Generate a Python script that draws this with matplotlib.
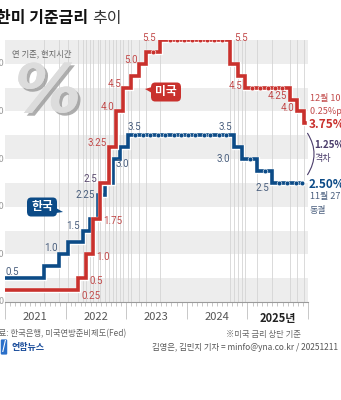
import matplotlib
matplotlib.use('Agg')
from matplotlib import pyplot as plt
import matplotlib.dates as mdates
import matplotlib.patheffects as pe
from matplotlib.patches import FancyBboxPatch, Polygon
import pandas as pd

plt.rcParams['font.family'] = ['Noto Sans CJK KR', 'DejaVu Sans']

# US Fed (upper bound), change dates (local time)
us_dates = ['2021-01-01', '2022-03-16', '2022-05-04', '2022-06-15', '2022-07-27',
            '2022-09-21', '2022-11-02', '2022-12-14', '2023-02-01', '2023-03-22',
            '2023-05-03', '2023-07-26', '2024-09-18', '2024-11-07', '2024-12-18',
            '2025-09-17', '2025-10-29', '2025-12-10']
us_rates = [0.25, 0.5, 1.0, 1.75, 2.5, 3.25, 4.0, 4.5, 4.75, 5.0,
            5.25, 5.5, 5.0, 4.75, 4.5, 4.25, 4.0, 3.75]
us_end = '2025-12-13'
us_hold_dates = ['2023-06-14', '2023-09-20', '2023-11-01', '2023-12-13', '2024-01-31',
                 '2024-03-20', '2024-05-01', '2024-06-12', '2024-07-31',
                 '2025-01-29', '2025-03-19', '2025-05-07', '2025-06-18', '2025-07-30']
us_hold_rates = [5.25, 5.5, 5.5, 5.5, 5.5, 5.5, 5.5, 5.5, 5.5,
                 4.5, 4.5, 4.5, 4.5, 4.5]

# Bank of Korea base rate
kr_dates = ['2021-01-01', '2021-08-26', '2021-11-25', '2022-01-14', '2022-04-14',
            '2022-05-26', '2022-07-13', '2022-08-25', '2022-10-12', '2022-11-24',
            '2023-01-13', '2024-10-11', '2024-11-28', '2025-02-25', '2025-05-29']
kr_rates = [0.5, 0.75, 1.0, 1.25, 1.5, 1.75, 2.25, 2.5, 3.0, 3.25,
            3.5, 3.25, 3.0, 2.75, 2.5]
kr_end = '2025-11-27'
kr_hold_dates = ['2023-02-23', '2023-04-11', '2023-05-25', '2023-07-13', '2023-08-24',
                 '2023-10-19', '2023-11-30', '2024-01-11', '2024-02-22', '2024-04-12',
                 '2024-05-23', '2024-07-11', '2024-08-22', '2025-01-16', '2025-04-17',
                 '2025-07-10', '2025-08-28', '2025-10-23', '2025-11-27']
kr_hold_rates = [3.5] * 13 + [3.0, 2.75, 2.5, 2.5, 2.5, 2.5]

years = ['2021', '2022', '2023', '2024', '2025년']

# rate labels: (date, rate, text, dx px, dy px, ha)
us_labels = [('2022-03-16', 0.25, '0.25', 4, -6, 'left'),
             ('2022-05-04', 0.5, '0.5', 4, -3, 'left'),
             ('2022-06-15', 1.0, '1.0', 3, -3, 'left'),
             ('2022-07-27', 1.75, '1.75', 3, -2, 'left'),
             ('2022-09-21', 3.25, '3.25', -2, 4, 'right'),
             ('2022-11-02', 4.0, '4.0', -2, 4, 'right'),
             ('2022-12-14', 4.5, '4.5', -2, 4, 'right'),
             ('2023-03-22', 5.0, '5.0', -2, 4, 'right'),
             ('2023-07-26', 5.5, '5.5', -4, 2, 'right'),
             ('2024-09-18', 5.5, '5.5', 4, 2, 'left'),
             ('2024-12-18', 4.5, '4.5', -3, 2, 'right'),
             ('2025-09-17', 4.25, '4.25', -3, 4, 'right'),
             ('2025-10-29', 4.0, '4.0', -3, 3, 'right')]
kr_labels = [('2021-01-01', 0.5, '0.5', 0, 6, 'left'),
             ('2021-11-25', 1.0, '1.0', -2, 6, 'right'),
             ('2022-04-14', 1.5, '1.5', -3, 5, 'right'),
             ('2022-07-13', 2.25, '2.25', -3, 0, 'right'),
             ('2022-10-12', 3.0, '3.0', 3, -5, 'left'),
             ('2023-01-13', 3.5, '3.5', -1, 8, 'left'),
             ('2024-10-11', 3.5, '3.5', -2, 8, 'right'),
             ('2024-11-28', 3.0, '3.0', -12, 0, 'right'),
             ('2025-05-29', 2.5, '2.5', -3, -5, 'right')]

RED = '#c9312d'
BLUE = '#0c4b87'
RED_T = '#c24a4a'
BLUE_T = '#4a5f7e'
W, H = 341, 400


def fx(px):
    return px / W


def fy(py):
    return 1 - py / H


fig = plt.figure(figsize=(3.41, 4.0), dpi=100)
ax = fig.add_axes([fx(5), 1 - 302 / H, 303 / W, 262 / H])
ax.set_xlim(pd.Timestamp('2021-01-01'), pd.Timestamp('2026-01-01'))
ax.set_ylim(0, 5.5)

# background bands
for lo in [0, 1, 2, 3, 4, 5]:
    ax.axhspan(lo, lo + 0.5, color='#ededed', lw=0, zorder=0)

# vertical guide lines at every change
for d in sorted(set(us_dates[1:] + kr_dates[1:])):
    ax.axvline(pd.Timestamp(d), color='#d4d4d4', lw=0.6, zorder=1)

us_x = pd.to_datetime(us_dates + [us_end])
kr_x = pd.to_datetime(kr_dates + [kr_end])
stroke = [pe.Stroke(linewidth=3.8, foreground='white'), pe.Normal()]
ax.step(kr_x, kr_rates + [kr_rates[-1]], where='post', color=BLUE, lw=2.6,
        zorder=3, path_effects=stroke, solid_joinstyle='miter')
ax.step(us_x, us_rates + [us_rates[-1]], where='post', color=RED, lw=2.6,
        zorder=4, path_effects=stroke, solid_joinstyle='miter')
ax.plot(pd.to_datetime(kr_hold_dates), kr_hold_rates, 'o', color=BLUE, ms=3.4,
        mec='white', mew=0.4, zorder=5)
ax.plot(pd.to_datetime(us_hold_dates), us_hold_rates, 'o', color=RED, ms=3.4,
        mec='white', mew=0.4, zorder=5)

for labels, col in [(us_labels, RED_T), (kr_labels, BLUE_T)]:
    for d, r, t, dx, dy, ha in labels:
        ax.annotate(t, (pd.Timestamp(d), r), xytext=(dx * 0.72, dy * 0.72),
                    textcoords='offset points', ha=ha, va='center',
                    fontsize=7, color=col, family=['Roboto', 'DejaVu Sans'],
                    annotation_clip=False, zorder=6)
# shared 2.5 label
ax.annotate('2.5', (pd.Timestamp('2022-07-27'), 2.5), xytext=(-2, 3),
            textcoords='offset points', ha='right', va='center', fontsize=7,
            color='#5a4a6e', family=['Roboto', 'DejaVu Sans'], zorder=6)

# axes styling
for s in ['top', 'left', 'right']:
    ax.spines[s].set_visible(False)
ax.spines['bottom'].set_color('#9a9a9a')
ax.spines['bottom'].set_linewidth(0.8)
ax.set_yticks([])
ax.xaxis.set_major_locator(mdates.YearLocator())
ax.xaxis.set_minor_locator(mdates.MonthLocator())
ax.tick_params(axis='x', which='major', length=12, color='#c8c8c8', width=0.7,
               labelbottom=False)
ax.tick_params(axis='x', which='minor', length=3, color='#b0b0b0', width=0.5)
for i, y in enumerate(years):
    ax.text(pd.Timestamp(f'{2021 + i}-07-02'), -0.22, y, ha='center', va='top',
            fontsize=8, color='#222' if i == 4 else '#555',
            fontweight='bold' if i == 4 else 'normal')

# cut-off y tick labels at the left edge
for v in [0, 1, 2, 3, 4, 5]:
    fig.text(fx(4), fy(302 - v * 47.6), f'{v}.0' if v else '0', ha='right',
             va='center', fontsize=6.5, color='#9a9a9a')

# title & notes
fig.text(fx(88), fy(18), '한미 기준금리', ha='right', va='center', fontsize=11.5,
         fontweight='bold', color='#111')
fig.text(fx(92), fy(18), '추이', ha='left', va='center', fontsize=11.5,
         fontweight='light', color='#333')
fig.text(fx(12), fy(54), '연 기준, 현지시간', ha='left', va='center', fontsize=6,
         color='#666')
fig.text(fx(48), fy(93), '%', ha='center', va='center', fontsize=48,
         fontweight='bold', style='italic', color='#dcdcdc',
         family=['DejaVu Sans'],
         path_effects=[pe.withSimplePatchShadow(offset=(2, -2),
                                                shadow_rgbFace='#9a9a9a', alpha=0.8),
                       pe.Normal()])


def callout(cx, cy, text, col, side):
    w, h = 30, 19
    box = FancyBboxPatch((fx(cx - w / 2), fy(cy + h / 2)), w / W, h / H,
                         boxstyle='round,pad=0,rounding_size=0.012',
                         transform=fig.transFigure, fc=col, ec='none', zorder=10)
    fig.patches.append(box)
    if side == 'left':
        pts = [(cx - w / 2 + 1, cy - 5), (cx - w / 2 - 6, cy - 3), (cx - w / 2 + 1, cy + 1)]
    else:
        pts = [(cx + w / 2 - 1, cy + 1), (cx + w / 2 + 6, cy + 5), (cx + w / 2 - 1, cy + 6)]
    fig.patches.append(Polygon([(fx(a), fy(b)) for a, b in pts], closed=True,
                               transform=fig.transFigure, fc=col, ec='none', zorder=10))
    fig.text(fx(cx), fy(cy), text, ha='center', va='center', fontsize=8.5,
             fontweight='bold', color='white', zorder=11)


callout(166, 92, '미국', RED, 'left')
callout(42, 207, '한국', BLUE, 'right')

# right side annotations
fig.text(fx(310), fy(98), '12월 10일', fontsize=6.5, color=RED_T, va='center')
fig.text(fx(310), fy(111), '0.25%p 인하', fontsize=6.5, color=RED_T, va='center')
fig.text(fx(309), fy(124), '3.75%', fontsize=8.5, color=RED, fontweight='bold',
         va='center')
fig.text(fx(314), fy(145), '1.25%p', fontsize=7, color='#4b3d6b',
         fontweight='bold', va='center')
fig.text(fx(314), fy(158), '격차', fontsize=6.5, color='#4b3d6b', va='center')
fig.text(fx(309), fy(184), '2.50%', fontsize=8.5, color=BLUE, fontweight='bold',
         va='center')
fig.text(fx(310), fy(197), '11월 27일', fontsize=6.5, color=BLUE_T, va='center')
fig.text(fx(310), fy(210), '동결', fontsize=6.5, color=BLUE_T, va='center')
ax.annotate('', xy=(fx(306), fy(177)), xytext=(fx(306), fy(131)),
            xycoords='figure fraction', textcoords='figure fraction',
            arrowprops=dict(arrowstyle='-', color='#4b3d6b', lw=0.8,
                            connectionstyle='arc3,rad=-0.35'))

# footer
fig.text(fx(-9), fy(334), '자료: 한국은행, 미국연방준비제도(Fed)', fontsize=6,
         color='#666', va='center')
fig.text(fx(226), fy(334), '※미국 금리 상단 기준', fontsize=6, color='#666',
         va='center')
fig.text(fx(12), fy(347), '연합뉴스', fontsize=6.5, color='#1d4f9c',
         fontweight='bold', va='center')
fig.text(fx(4), fy(347), '/', fontsize=8, color='white', fontweight='bold',
         va='center', ha='center',
         bbox=dict(boxstyle='round,pad=0.1', fc='#2a6fc9', ec='none'))
fig.text(fx(152), fy(347), '김영은, 김민지 기자 = minfo@yna.co.kr / 20251211',
         fontsize=6, color='#555', va='center')

fig.savefig('out.png', dpi=100)
